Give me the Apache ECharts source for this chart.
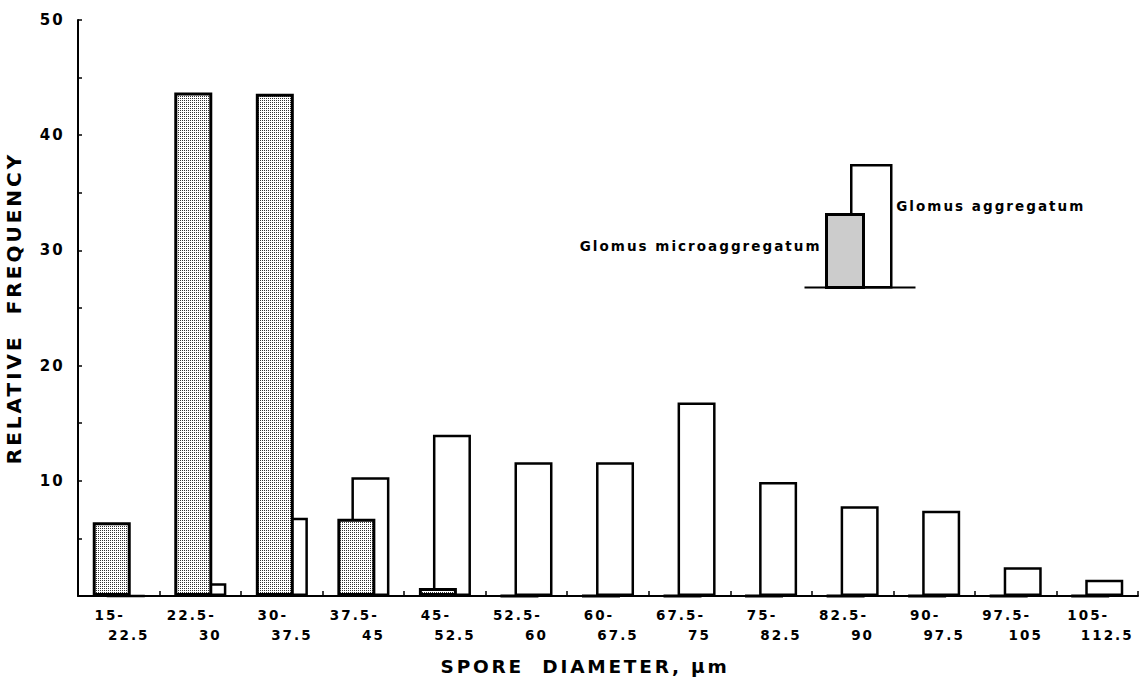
<!DOCTYPE html>
<html>
<head>
<meta charset="utf-8">
<script src="https://cdn.jsdelivr.net/npm/echarts@6/dist/echarts.min.js"></script>
<style>
  html, body { margin: 0; padding: 0; background: #fff; }
  #chart { width: 1147px; height: 685px; }
  #chart text { letter-spacing: 0.15em; }
</style>
</head>
<body>
<div id="chart"></div>
<script>
// ---- data ----
const categories = ['15-22.5', '22.5-30', '30-37.5', '37.5-45', '45-52.5', '52.5-60', '60-67.5',
                    '67.5-75', '75-82.5', '82.5-90', '90-97.5', '97.5-105', '105-112.5'];
const microaggregatum = [6.4, 43.7, 43.6, 6.7, 0.7, 0, 0, 0, 0, 0, 0, 0, 0];
const aggregatum = [0, 1.1, 6.8, 10.3, 14.0, 11.6, 11.6, 16.8, 9.9, 7.8, 7.4, 2.5, 1.4];
const yTickLabels = [10, 20, 30, 40, 50];
const seriesNames = ['Glomus microaggregatum', 'Glomus aggregatum'];
const xTitle = 'SPORE  DIAMETER, \u03bcm';
const yTitle = 'RELATIVE  FREQUENCY';

// ---- stipple pattern for the shaded bars ----
const tile = document.createElement('canvas');
tile.width = 2; tile.height = 2;
const tctx = tile.getContext('2d');
tctx.fillStyle = '#fff'; tctx.fillRect(0, 0, 2, 2);
tctx.fillStyle = '#333'; tctx.fillRect(0, 0, 1, 1);
const dotPattern = { image: tile.toDataURL(), repeat: 'repeat', imageWidth: 2, imageHeight: 2 };

const FONT = 'DejaVu Sans';
const chart = echarts.init(document.getElementById('chart'), null, { renderer: 'svg' });

chart.setOption({
  animation: false,
  backgroundColor: '#fff',
  grid: { left: 78, right: 9, top: 20, bottom: 89, containLabel: false, outerBoundsMode: 'none' },
  legend: [
    {
      data: [seriesNames[1]],
      left: 850, top: 164, padding: 0, z: 5,
      orient: 'vertical', align: 'left', icon: 'rect',
      itemWidth: 40, itemHeight: 122, selectedMode: false,
      itemStyle: { color: '#fff', borderColor: '#000', borderWidth: 2.5 },
      formatter: function (n) { return '{t|' + n + '}'; },
      textStyle: {
        fontFamily: FONT, fontWeight: 'bold', fontSize: 13.5, color: '#000',
        rich: { t: { fontFamily: FONT, fontWeight: 'bold', fontSize: 13.5, color: '#000', padding: [0, 0, 40, 0] } }
      }
    },
    {
      data: [seriesNames[0]],
      right: 282, top: 213, padding: 0, z: 6,
      orient: 'vertical', align: 'right', icon: 'rect',
      itemWidth: 37, itemHeight: 73, selectedMode: false,
      itemStyle: { color: dotPattern, borderColor: '#000', borderWidth: 3 },
      formatter: function (n) { return '{t|' + n + '}'; },
      textStyle: {
        fontFamily: FONT, fontWeight: 'bold', fontSize: 13.5, color: '#000',
        rich: { t: { fontFamily: FONT, fontWeight: 'bold', fontSize: 13.5, color: '#000', padding: [0, 0, 10, 0] } }
      }
    }
  ],
  graphic: [
    { type: 'line', left: 802, top: 285, z: 4, shape: { x1: 0, y1: 0, x2: 111, y2: 0 },
      style: { stroke: '#000', lineWidth: 2 } }
  ],
  xAxis: {
    type: 'category',
    data: categories,
    boundaryGap: true,
    name: xTitle,
    nameLocation: 'middle',
    nameGap: 61,
    nameTextStyle: { fontFamily: FONT, fontWeight: 'bold', fontSize: 18.5, color: '#000', padding: [0, 46, 0, 0] },
    axisLine: { show: true, lineStyle: { color: '#000', width: 2 } },
    axisTick: { show: true, inside: true, length: 5, interval: 0, lineStyle: { color: '#000', width: 1.5 } },
    splitLine: { show: false },
    axisLabel: {
      interval: 0, margin: 9, color: '#000',
      fontFamily: FONT, fontWeight: 'bold', fontSize: 13.5,
      formatter: function (v) {
        const parts = v.split('-');
        return '{a|' + parts[0] + '-}\n{b|' + parts[1] + '}';
      },
      rich: {
        a: { fontFamily: FONT, fontWeight: 'bold', fontSize: 13.5, color: '#000', lineHeight: 20, padding: [0, 18, 0, 0] },
        b: { fontFamily: FONT, fontWeight: 'bold', fontSize: 13.5, color: '#000', lineHeight: 20, padding: [0, 0, 0, 20] }
      }
    }
  },
  yAxis: {
    type: 'value',
    min: 0, max: 50, interval: 5,
    name: yTitle,
    nameLocation: 'middle',
    nameGap: 54,
    nameTextStyle: { fontFamily: FONT, fontWeight: 'bold', fontSize: 20, color: '#000' },
    axisLine: { show: true, lineStyle: { color: '#000', width: 2 } },
    axisTick: { show: true, inside: true, length: 4, lineStyle: { color: '#000', width: 1.5 } },
    splitLine: { show: false },
    axisLabel: {
      margin: 13, color: '#000', fontFamily: FONT, fontWeight: 'bold', fontSize: 15,
      formatter: function (v) { return yTickLabels.indexOf(v) >= 0 ? String(v) : ''; }
    }
  },
  series: [
    {
      name: seriesNames[0],
      type: 'bar',
      data: microaggregatum,
      barWidth: 38,
      barGap: '-63%',
      z: 3,
      itemStyle: { color: dotPattern, borderColor: '#000', borderWidth: 3 }
    },
    {
      name: seriesNames[1],
      type: 'bar',
      data: aggregatum,
      barWidth: 38,
      z: 2,
      itemStyle: { color: '#fff', borderColor: '#000', borderWidth: 2.5 }
    }
  ]
});
</script>
</body>
</html>
